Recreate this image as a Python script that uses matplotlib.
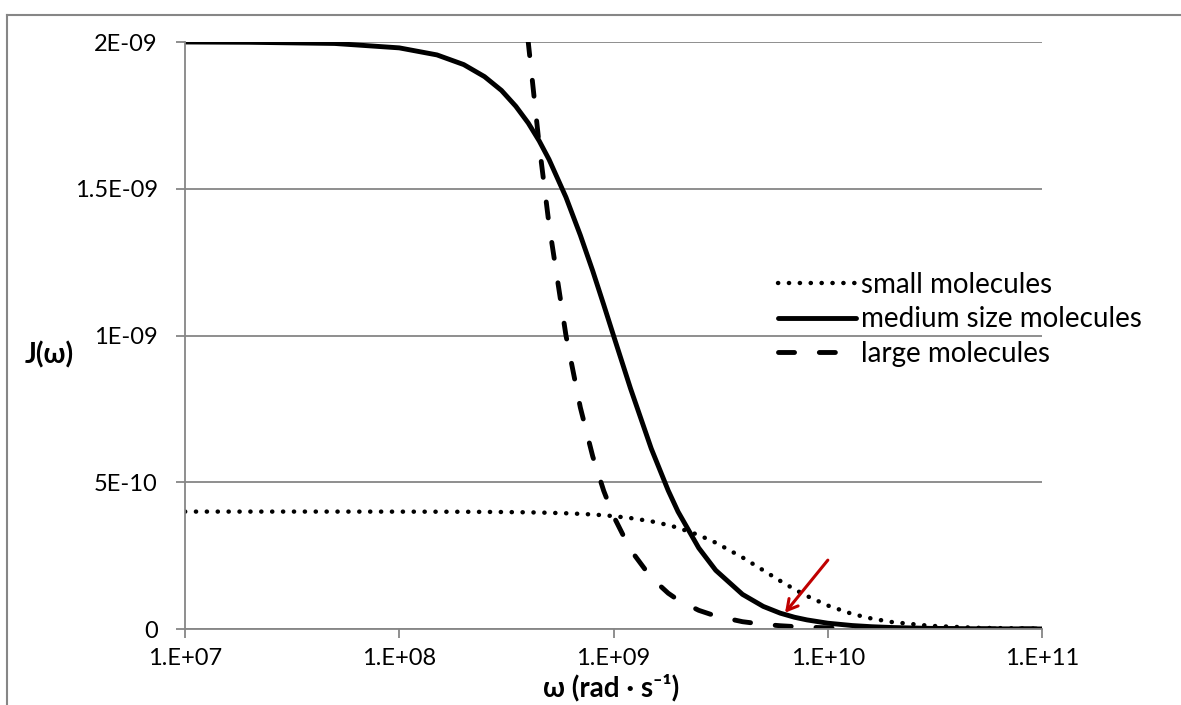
import matplotlib
matplotlib.use("Agg")
import matplotlib.pyplot as plt
from matplotlib.lines import Line2D
from matplotlib.ticker import FixedLocator, FixedFormatter, NullLocator

plt.rcParams['font.family'] = ['Lato', 'DejaVu Sans']

# angular frequency (rad/s)
omega = [1e7, 2e7, 5e7, 1e8, 1.5e8, 2e8, 2.5e8, 3e8, 3.5e8, 4e8, 4.5e8, 5e8, 6e8, 7e8,
         8e8, 9e8, 1e9, 1.2e9, 1.5e9, 1.8e9, 2e9, 2.5e9, 3e9, 4e9, 5e9, 6e9, 7e9, 8e9,
         1e10, 1.3e10, 1.6e10, 2e10, 3e10, 5e10, 1e11]
# spectral density J(w)
j_small = [4.0e-10, 4.0e-10, 4.0e-10, 3.998e-10, 3.996e-10, 3.994e-10, 3.990e-10, 3.986e-10,
           3.980e-10, 3.975e-10, 3.968e-10, 3.960e-10, 3.943e-10, 3.923e-10,
           3.901e-10, 3.875e-10, 3.846e-10, 3.780e-10, 3.670e-10, 3.542e-10, 3.448e-10,
           3.200e-10, 2.941e-10, 2.439e-10, 2.000e-10, 1.639e-10, 1.351e-10, 1.124e-10,
           0.800e-10, 0.513e-10, 0.357e-10, 0.235e-10, 0.108e-10, 0.040e-10, 0.010e-10]
j_medium = [2.0e-9, 1.999e-9, 1.995e-9, 1.980e-9, 1.956e-9, 1.923e-9, 1.882e-9, 1.835e-9,
            1.781e-9, 1.724e-9, 1.663e-9, 1.600e-9, 1.471e-9, 1.342e-9,
            1.220e-9, 1.105e-9, 1.000e-9, 0.820e-9, 0.615e-9, 0.472e-9, 0.400e-9,
            0.276e-9, 0.200e-9, 0.118e-9, 0.077e-9, 0.054e-9, 0.040e-9, 0.031e-9,
            0.0198e-9, 0.0118e-9, 0.0078e-9, 0.005e-9, 0.0022e-9, 0.0008e-9, 0.0002e-9]
j_large = [9.975e-9, 9.901e-9, 9.412e-9, 8.0e-9, 6.4e-9, 5.0e-9, 3.902e-9, 3.077e-9,
           2.462e-9, 2.0e-9, 1.649e-9, 1.379e-9, 1.0e-9, 0.755e-9,
           0.588e-9, 0.471e-9, 0.385e-9, 0.270e-9, 0.175e-9, 0.122e-9, 0.099e-9,
           0.0636e-9, 0.0443e-9, 0.0249e-9, 0.0160e-9, 0.0111e-9, 0.0082e-9, 0.0062e-9,
           0.0040e-9, 0.0024e-9, 0.0016e-9, 0.0010e-9, 0.00044e-9, 0.00016e-9, 0.00004e-9]

x_ticks = [1e7, 1e8, 1e9, 1e10, 1e11]
x_labels = ["1.E+07", "1.E+08", "1.E+09", "1.E+10", "1.E+11"]
y_ticks = [0, 5e-10, 1e-9, 1.5e-9, 2e-9]
y_labels = ["0", "5E-10", "1E-09", "1.5E-09", "2E-09"]

W, H = 1181, 705
fig = plt.figure(figsize=(W / 100, H / 100), dpi=100)
ax = fig.add_axes([185 / W, 1 - 629 / H, (1042 - 185) / W, (629 - 42) / H])

grey = "#868686"
ax.plot(omega, j_small, color="black", lw=3.2, linestyle=(0, (0.05, 2.4)),
        dash_capstyle="round", solid_capstyle="round", label="small molecules")
ax.plot(omega, j_medium, color="black", lw=3.5, solid_capstyle="round",
        solid_joinstyle="round", label="medium size molecules")
ax.plot(omega, j_large, color="black", lw=3.5, linestyle=(0, (3.3, 5.1)),
        dash_capstyle="round", label="large molecules")

ax.set_xscale("log")
ax.set_xlim(1e7, 1e11)
ax.set_ylim(0, 2e-9)
ax.xaxis.set_major_locator(FixedLocator(x_ticks))
ax.xaxis.set_major_formatter(FixedFormatter(x_labels))
ax.xaxis.set_minor_locator(NullLocator())
ax.yaxis.set_major_locator(FixedLocator(y_ticks))
ax.yaxis.set_major_formatter(FixedFormatter(y_labels))

for s in ["top", "right"]:
    ax.spines[s].set_visible(False)
for s in ["left", "bottom"]:
    ax.spines[s].set_color(grey)
    ax.spines[s].set_linewidth(1.3)
ax.tick_params(axis="both", direction="out", length=6.5, width=1.3, color=grey,
               labelsize=17, labelcolor="black")
ax.tick_params(axis="y", pad=13)
ax.tick_params(axis="x", pad=7)
ax.yaxis.grid(True, color=grey, lw=1.3)
ax.set_axisbelow(True)

leg = ax.legend(loc="upper left", bbox_to_anchor=((778 - 185) / (1042 - 185), (629 - 272) / (629 - 42)),
                frameon=False, fontsize=20, handlelength=2.8, handletextpad=0.2,
                labelspacing=0.3, borderaxespad=0, borderpad=0)

# red arrow annotation
ax.annotate("", xy=(6.2e9, 0.048e-9), xytext=(1.02e10, 0.242e-9),
            arrowprops=dict(arrowstyle="->,head_length=0.75,head_width=0.42",
                            color="#C00000", lw=2.2))

fig.text(49 / W, 1 - 355 / H, "J(ω)", fontsize=20, fontweight="bold",
         ha="center", va="center")
fig.text(611 / W, 1 - 688 / H, "ω (rad · s⁻¹)", fontsize=20, fontweight="bold",
         ha="center", va="center")

# outer chart border (only top and left edges fall inside the picture)
fig.add_artist(Line2D([7 / W, 7 / W], [-0.1, 1 - 15 / H], transform=fig.transFigure,
                      color=grey, lw=1.5))
fig.add_artist(Line2D([7 / W, 1.1], [1 - 15 / H, 1 - 15 / H], transform=fig.transFigure,
                      color=grey, lw=1.5))

fig.savefig("out.png", dpi=100)
